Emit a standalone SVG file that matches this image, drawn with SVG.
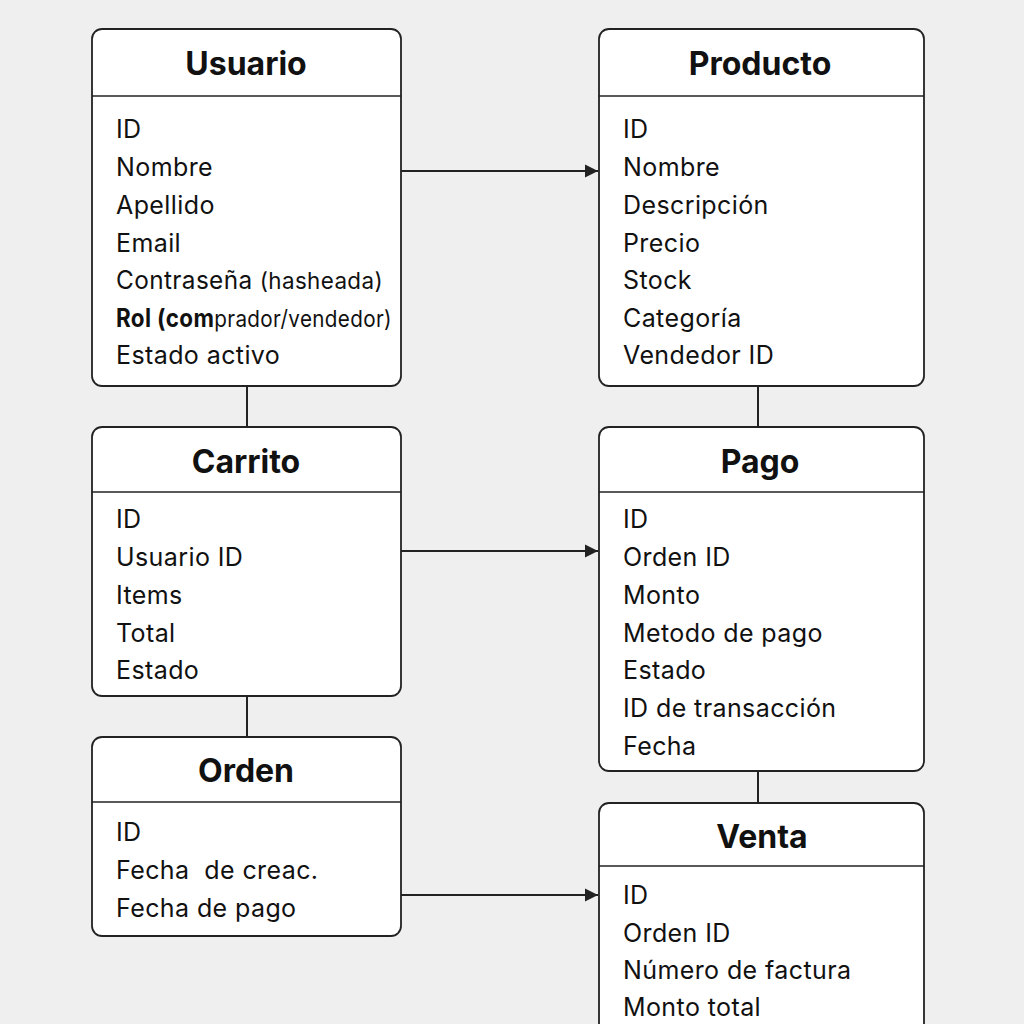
<svg xmlns="http://www.w3.org/2000/svg" width="1024" height="1024" viewBox="0 0 1024 1024">
<defs>
<style>
.box{fill:#ffffff;stroke:#222;stroke-width:1.8}
.div{stroke:#222;stroke-width:1.6}
.title{font-family:Inter,"Liberation Sans",sans-serif;font-size:32px;font-weight:700;fill:#111;text-anchor:middle}
.item{font-family:Inter,"Liberation Sans",sans-serif;font-size:25px;letter-spacing:0.4px;fill:#111}
.con{stroke:#222;stroke-width:2;fill:none}
.b{font-weight:700}
</style>
<marker id="arr" viewBox="0 0 10 10" refX="10" refY="5" markerWidth="13" markerHeight="14" markerUnits="userSpaceOnUse" orient="auto">
<path d="M0,0 L10,5 L0,10 z" fill="#222"/>
</marker>
</defs>
<rect width="1024" height="1024" fill="#efefef"/>
<g id="connectors">
<line class="con" x1="401" y1="171" x2="598" y2="171" marker-end="url(#arr)"/>
<line class="con" x1="401" y1="551" x2="598" y2="551" marker-end="url(#arr)"/>
<line class="con" x1="401" y1="895" x2="598" y2="895" marker-end="url(#arr)"/>
<line class="con" x1="247" y1="386" x2="247" y2="427"/>
<line class="con" x1="247" y1="696" x2="247" y2="737"/>
<line class="con" x1="758" y1="386" x2="758" y2="427"/>
<line class="con" x1="758" y1="771" x2="758" y2="803"/>
</g>
<g id="usuario">
<rect class="box" x="92" y="29" width="309" height="357" rx="10"/>
<line class="div" x1="92" y1="96" x2="401" y2="96"/>
<text class="title" x="246" y="75">Usuario</text>
<text class="item" x="116" y="138">ID</text>
<text class="item" x="116" y="176">Nombre</text>
<text class="item" x="116" y="214">Apellido</text>
<text class="item" x="116" y="252">Email</text>
<text class="item" x="116" y="289" textLength="267" lengthAdjust="spacingAndGlyphs">Contraseña <tspan font-size="23">(hasheada)</tspan></text>
<text class="item" x="116" y="327" textLength="276" lengthAdjust="spacingAndGlyphs"><tspan class="b">Rol (com</tspan><tspan font-size="23">prador/vendedor)</tspan></text>
<text class="item" x="116" y="364">Estado activo</text>
</g>
<g id="producto">
<rect class="box" x="599" y="29" width="325" height="357" rx="10"/>
<line class="div" x1="599" y1="96" x2="924" y2="96"/>
<text class="title" x="760" y="75">Producto</text>
<text class="item" x="623" y="138">ID</text>
<text class="item" x="623" y="176">Nombre</text>
<text class="item" x="623" y="214">Descripción</text>
<text class="item" x="623" y="252">Precio</text>
<text class="item" x="623" y="289">Stock</text>
<text class="item" x="623" y="327">Categoría</text>
<text class="item" x="623" y="364">Vendedor ID</text>
</g>
<g id="carrito">
<rect class="box" x="92" y="427" width="309" height="269" rx="10"/>
<line class="div" x1="92" y1="492" x2="401" y2="492"/>
<text class="title" x="246" y="473">Carrito</text>
<text class="item" x="116" y="528">ID</text>
<text class="item" x="116" y="566">Usuario ID</text>
<text class="item" x="116" y="604">Items</text>
<text class="item" x="116" y="642">Total</text>
<text class="item" x="116" y="679">Estado</text>
</g>
<g id="pago">
<rect class="box" x="599" y="427" width="325" height="344" rx="10"/>
<line class="div" x1="599" y1="492" x2="924" y2="492"/>
<text class="title" x="760" y="473">Pago</text>
<text class="item" x="623" y="528">ID</text>
<text class="item" x="623" y="566">Orden ID</text>
<text class="item" x="623" y="604">Monto</text>
<text class="item" x="623" y="642">Metodo de pago</text>
<text class="item" x="623" y="679">Estado</text>
<text class="item" x="623" y="717">ID de transacción</text>
<text class="item" x="623" y="755">Fecha</text>
</g>
<g id="orden">
<rect class="box" x="92" y="737" width="309" height="199" rx="10"/>
<line class="div" x1="92" y1="802" x2="401" y2="802"/>
<text class="title" x="246" y="782">Orden</text>
<text class="item" x="116" y="841">ID</text>
<text class="item" x="116" y="879" xml:space="preserve">Fecha  de creac.</text>
<text class="item" x="116" y="917">Fecha de pago</text>
</g>
<g id="venta">
<rect class="box" x="599" y="803" width="325" height="240" rx="10"/>
<line class="div" x1="599" y1="866" x2="924" y2="866"/>
<text class="title" x="762" y="848">Venta</text>
<text class="item" x="623" y="904">ID</text>
<text class="item" x="623" y="942">Orden ID</text>
<text class="item" x="623" y="979">Número de factura</text>
<text class="item" x="623" y="1016">Monto total</text>
</g>
</svg>
